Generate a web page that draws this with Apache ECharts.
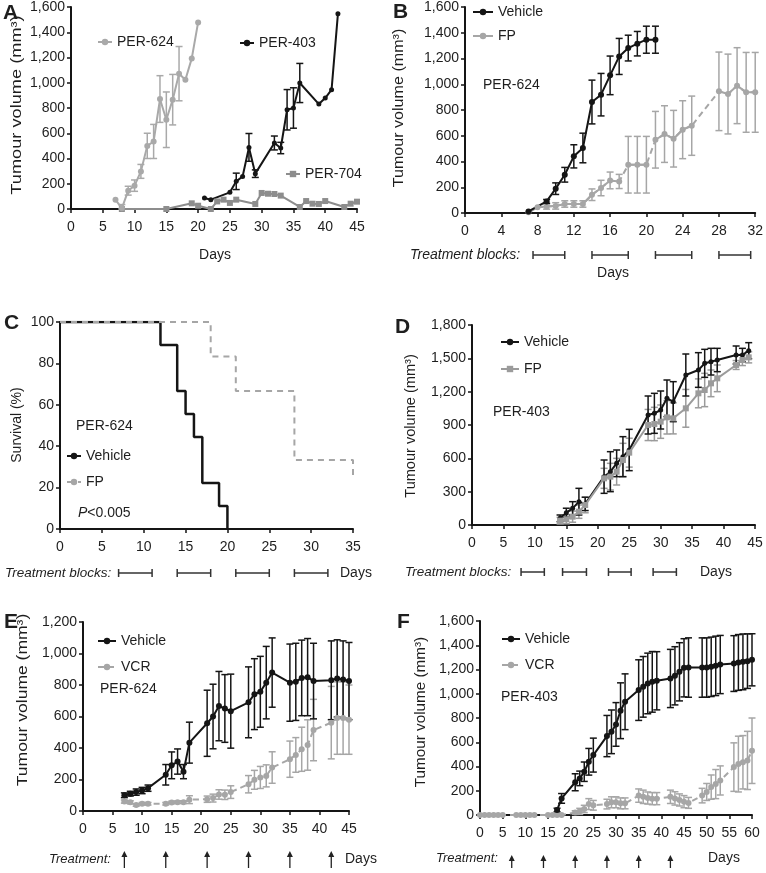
<!DOCTYPE html>
<html><head><meta charset="utf-8">
<script src="https://cdn.jsdelivr.net/npm/echarts@6/dist/echarts.min.js"></script>
<style>html,body{margin:0;padding:0;background:#fff}#c{width:766px;height:873px}</style>
</head><body><div id="c"></div><script>
// ---------- Panel A ----------
const aDays624 = [7,8,9,10,11,12,13,14,15,16,17,18,19,20];
const aVal624  = [74,5,145,185,298,500,535,871,707,866,1072,1024,1193,1478];
const aErr624  = [0,30,35,45,55,100,135,185,220,200,215,0,0,0];
const aDays403 = [21,22,25,26,27,28,29,32,33,34,35,36,39,40,41,42];
const aVal403  = [87,74,132,219,258,488,280,523,483,786,800,998,831,879,945,1547];
const aErr403  = [0,0,0,65,0,110,30,55,45,160,160,155,0,0,0,0];
const aDays704 = [8,15,19,20,22,23,24,25,26,29,30,31,32,33,36,37,38,39,40,43,44,45];
const aVal704  = [0,0,45,26,0,60,74,48,74,40,127,121,119,106,16,63,42,40,63,16,42,58];
// ---------- Panel B ----------
const bDaysVeh = [7,9,10,11,12,13,14,15,16,17,18,19,20,21];
const bValVeh  = [12,90,189,297,440,505,862,919,1069,1216,1281,1315,1346,1346];
const bErrVeh  = [0,15,45,57,90,115,170,165,150,140,100,95,105,105];
const bDaysFP  = [7,8,9,10,11,12,13,14,15,16,17,18,19,20,21,22,23,24,25,28,29,30,31,32];
const bValFP   = [5,44,50,55,70,70,70,142,194,253,245,375,375,375,569,613,577,647,678,945,924,989,937,937];
const bErrFP   = [0,0,20,25,25,25,25,45,60,65,55,220,220,220,220,220,220,225,230,305,310,295,310,310];
const bFPDashedAfter = [17,20,25];
const bBlocks = [[7.5,11],[14,18],[21,25],[28,31.5]];
// ---------- Panel C ----------
const cVehDays = [0,12,14,15,16,17,19,20];
const cVehSurv = [100,88.9,66.7,55.6,44.4,22.2,11.1,0];
const cFPDays  = [0,18,21,28,35];
const cFPSurv  = [100,83.3,66.7,33.3,25];
const cBlocks = [[7,11],[14,18],[21,25],[28,32]];
// ---------- Panel D ----------
const dDays    = [14,15,16,17,18,21,22,23,24,25,28,29,30,31,32,34,36,37,38,39,42,43,44];
const dValVeh  = [60,111,150,210,190,435,480,555,615,675,990,1005,1035,1140,1110,1350,1395,1455,1470,1485,1530,1530,1569];
const dErrVeh  = [30,40,60,120,60,150,180,120,180,186,171,180,171,165,180,189,156,126,120,105,81,60,72];
const dValFP   = [39,51,75,120,180,420,435,480,585,651,900,909,930,969,960,1050,1185,1215,1275,1320,1440,1485,1509];
const dErrFP   = [30,40,50,60,70,90,120,120,150,130,140,150,150,150,140,170,130,150,120,120,40,50,50];
const dBlocks = [[7.8,11.5],[14.4,18.2],[21.7,25.3],[28.8,32.5]];
// ---------- Panel E ----------
const eDays    = [7,8,9,10,11,14,15,16,17,18,21,22,23,24,25,28,29,30,31,32,35,36,37,38,39,42,43,44,45];
const eValVeh  = [100,110,120,130,145,230,290,314,250,434,557,600,666,651,634,690,742,757,815,879,815,820,845,850,825,830,842,835,825];
const eErrVeh  = [15,15,20,20,20,65,85,80,45,130,210,205,220,215,235,225,225,225,230,220,245,245,240,245,240,250,245,245,245];
const eValVCR  = [60,55,38,46,46,46,54,56,56,72,75,82,105,103,120,170,198,213,223,276,329,356,392,419,514,561,590,590,580];
const eErrVCR  = [10,10,8,8,8,8,8,8,8,25,20,25,30,30,40,55,60,70,70,100,115,110,140,160,195,230,230,230,220];
const eTreat   = [7,14,21,28,35,42];
// ---------- Panel F ----------
const fDaysVeh = [17,18,21,22,23,24,25,28,29,30,31,32,35,36,37,38,39,42,43,44,45,46,49,50,51,52,53,56,57,58,59,60];
const fValVeh  = [41,137,270,302,357,439,494,651,686,747,860,934,1030,1057,1085,1098,1107,1126,1148,1181,1214,1216,1216,1216,1222,1230,1241,1249,1258,1263,1269,1280];
const fErrVeh  = [15,40,70,60,80,110,140,170,180,180,230,230,250,250,250,250,240,240,240,240,240,245,245,245,245,245,240,230,230,230,225,215];
const fDaysVCR = [0,1,2,3,4,5,8,9,10,11,12,15,16,17,18,21,22,23,24,25,28,29,30,31,32,35,36,37,38,39,42,43,44,45,46,49,50,51,52,53,56,57,58,59,60];
const fValVCR  = [0,0,0,0,0,0,0,0,0,0,0,0,0,0,0,20,30,50,90,80,90,105,105,96,96,160,150,140,135,135,150,137,124,110,100,160,190,230,255,285,395,420,435,450,530];
const fErrVCR  = [0,0,0,0,0,0,0,0,0,0,0,0,0,0,0,15,25,30,45,40,40,45,45,45,45,55,55,50,50,50,55,55,50,50,45,60,70,100,120,120,200,230,220,240,270];
const fTreat   = [7,14,21,28,35,42];

// ---------- styling ----------
const FF = 'Liberation Sans, Arial, sans-serif';
const BLACK = '#151515', TXT = '#1e1e1e';
const GREY_A = '#a9a9a9', GREY_704 = '#8d8d8d', GREY = '#a6a6a6', GREY_D = '#9b9b9b';
const grids = [
  {left:71, top:7, width:286, height:202},
  {left:465, top:7, width:294, height:206},
  {left:60, top:322, width:293, height:207},
  {left:472, top:325, width:283, height:200},
  {left:83, top:622, width:266, height:189},
  {left:480, top:621, width:272, height:194}
];
const xSpec = [[45,5],[32,4],[35,5],[45,5],[45,5],[60,5]];
const ySpec = [[1600,200],[1600,200],[100,20],[1800,300],[1200,200],[1600,200]];
const fmt = v => String(v).replace(/\B(?=(\d{3})+(?!\d))/g, ',');

const xAxis = xSpec.map((s,i)=>({type:'value', gridIndex:i, min:0, max:s[0], interval:s[1],
  axisLine:{show:true, onZero:false, lineStyle:{color:BLACK, width:2}},
  axisTick:{show:true, length:4, lineStyle:{color:BLACK, width:1.5}},
  axisLabel:{fontSize:14, color:TXT, fontFamily:FF, margin:11, interval:0, hideOverlap:false, showMinLabel:true, showMaxLabel:true},
  splitLine:{show:false}}));
const yAxis = ySpec.map((s,i)=>({type:'value', gridIndex:i, min:0, max:s[0], interval:s[1],
  axisLine:{show:true, onZero:false, lineStyle:{color:BLACK, width:2}},
  axisTick:{show:true, length:4, lineStyle:{color:BLACK, width:1.5}},
  axisLabel:{fontSize:14, color:TXT, fontFamily:FF, margin:6, formatter:fmt, showMinLabel:true, showMaxLabel:true},
  splitLine:{show:false}}));

function errRender(params, api){
  const x = api.value(0), lo = api.value(1), hi = api.value(2);
  const p1 = api.coord([x, lo]), p2 = api.coord([x, hi]);
  const w = 3.5;
  const st = {stroke: api.visual('color'), lineWidth: 1.5};
  return {type:'group', children:[
    {type:'line', shape:{x1:p1[0],y1:p1[1],x2:p2[0],y2:p2[1]}, style:st},
    {type:'line', shape:{x1:p1[0]-w,y1:p1[1],x2:p1[0]+w,y2:p1[1]}, style:st},
    {type:'line', shape:{x1:p2[0]-w,y1:p2[1],x2:p2[0]+w,y2:p2[1]}, style:st}
  ]};
}
function errSeries(gi, days, vals, errs, color){
  const data = [];
  days.forEach((d,i)=>{ if (errs[i] > 0) data.push([d, Math.max(0, vals[i]-errs[i]), vals[i]+errs[i]]); });
  return {type:'custom', xAxisIndex:gi, yAxisIndex:gi, data, renderItem:errRender,
    itemStyle:{color}, encode:{x:0, y:[1,2]}, z:2, silent:true, clip:false};
}
function lineSeries(name, gi, days, vals, color, symbol, extra){
  return Object.assign({type:'line', name, xAxisIndex:gi, yAxisIndex:gi,
    data: days.map((d,i)=>[d, vals[i]]), symbol, symbolSize:6, showSymbol:true,
    lineStyle:{color, width:2}, itemStyle:{color}, z:3, silent:true, animation:false}, extra||{});
}
function blockSeries(gi, blocks, off){
  return {type:'custom', xAxisIndex:gi, yAxisIndex:gi, data: blocks.map(b=>[b[0], b[1]]), clip:false, silent:true,
    encode:{x:[0,1]},
    renderItem:function(params, api){
      const a = api.coord([api.value(0), 0]), b = api.coord([api.value(1), 0]);
      const y = a[1] + off, h = 4;
      const st = {stroke:'#333', lineWidth:1.5};
      return {type:'group', children:[
        {type:'line', shape:{x1:a[0],y1:y,x2:b[0],y2:y}, style:st},
        {type:'line', shape:{x1:a[0],y1:y-h,x2:a[0],y2:y+h}, style:st},
        {type:'line', shape:{x1:b[0],y1:y-h,x2:b[0],y2:y+h}, style:st}]};
    }};
}
function arrowSeries(gi, days, top, bot){
  return {type:'custom', xAxisIndex:gi, yAxisIndex:gi, data: days.map(d=>[d, 0]), clip:false, silent:true,
    renderItem:function(params, api){
      const a = api.coord([api.value(0), 0]);
      const x = a[0], y0 = a[1];
      return {type:'group', children:[
        {type:'line', shape:{x1:x,y1:y0+bot,x2:x,y2:y0+top+4}, style:{stroke:'#222', lineWidth:1.3}},
        {type:'polygon', shape:{points:[[x,y0+top],[x-3,y0+top+6],[x+3,y0+top+6]]}, style:{fill:'#222'}}]};
    }};
}

// Panel B FP: solid within blocks, dashed in gaps
const bFPSolid = [];
bDaysFP.forEach((d,i)=>{ bFPSolid.push([d, bValFP[i]]); if (bFPDashedAfter.includes(d)) bFPSolid.push([d+0.5, '-']); });

const series = [
  // A
  errSeries(0, aDays624, aVal624, aErr624, GREY_A),
  errSeries(0, aDays403, aVal403, aErr403, BLACK),
  lineSeries('A|PER-704', 0, aDays704, aVal704, GREY_704, 'rect'),
  lineSeries('A|PER-624', 0, aDays624, aVal624, GREY_A, 'circle'),
  lineSeries('A|PER-403', 0, aDays403, aVal403, BLACK, 'circle', {symbolSize:5}),
  // B
  errSeries(1, bDaysFP, bValFP, bErrFP, GREY),
  errSeries(1, bDaysVeh, bValVeh, bErrVeh, BLACK),
  lineSeries('B|FPgap', 1, bDaysFP, bValFP, GREY, 'none', {lineStyle:{color:GREY, width:2, type:[6,4]}}),
  Object.assign(lineSeries('B|FP', 1, bDaysFP, bValFP, GREY, 'circle'), {data:bFPSolid, connectNulls:false}),
  lineSeries('B|Vehicle', 1, bDaysVeh, bValVeh, BLACK, 'circle'),
  // C
  lineSeries('C|Vehicle', 2, cVehDays, cVehSurv, BLACK, 'none', {step:'end', lineStyle:{color:BLACK, width:2.5}}),
  lineSeries('C|FP', 2, cFPDays, cFPSurv, GREY, 'none', {step:'end', z:4, lineStyle:{color:GREY, width:2, type:[6,5]}}),
  blockSeries(2, cBlocks, 44),
  blockSeries(1, bBlocks, 42),
  // D
  errSeries(3, dDays, dValFP, dErrFP, GREY_D),
  errSeries(3, dDays, dValVeh, dErrVeh, BLACK),
  lineSeries('D|Vehicle', 3, dDays, dValVeh, BLACK, 'circle', {symbolSize:5}),
  lineSeries('D|FP', 3, dDays, dValFP, GREY_D, 'rect', {z:4}),
  blockSeries(3, dBlocks, 47),
  // E
  errSeries(4, eDays, eValVCR, eErrVCR, GREY),
  errSeries(4, eDays, eValVeh, eErrVeh, BLACK),
  lineSeries('E|VCR', 4, eDays, eValVCR, GREY, 'circle', {lineStyle:{color:GREY, width:2, type:[6,4]}}),
  lineSeries('E|Vehicle', 4, eDays, eValVeh, BLACK, 'circle'),
  arrowSeries(4, eTreat, 40, 57),
  // F
  errSeries(5, fDaysVCR, fValVCR, fErrVCR, GREY),
  errSeries(5, fDaysVeh, fValVeh, fErrVeh, BLACK),
  lineSeries('F|VCR', 5, fDaysVCR, fValVCR, GREY, 'circle', {lineStyle:{color:GREY, width:2, type:[6,4]}}),
  lineSeries('F|Vehicle', 5, fDaysVeh, fValVeh, BLACK, 'circle'),
  arrowSeries(5, fTreat, 40, 53)
];

function leg(name, left, top, w){
  return {data:[name], left, top, orient:'horizontal', padding:0, itemWidth:w||18, itemHeight:8, selectedMode:false,
    formatter: n => n.split('|')[1], textStyle:{fontSize:14, color:TXT, fontFamily:FF}};
}
const legend = [
  leg('A|PER-624', 97, 35, 14), leg('A|PER-403', 239, 36, 14), leg('A|PER-704', 285, 167, 14),
  leg('B|Vehicle', 472, 5, 20), leg('B|FP', 472, 29, 20),
  leg('C|Vehicle', 66, 449, 14), leg('C|FP', 66, 475, 14),
  leg('D|Vehicle', 500, 335), leg('D|FP', 500, 362),
  leg('E|Vehicle', 97, 634), leg('E|VCR', 97, 660),
  leg('F|Vehicle', 501, 632), leg('F|VCR', 501, 658)
];

function T(text, x, y, o){
  o = o || {};
  return {type:'text', x, y, rotation:o.rot||0, scaleX:o.sx||1, silent:true,
    style:{text, fontSize:o.fs||14, fontFamily:FF, fontWeight:o.fw||'normal', fontStyle:o.it?'italic':'normal',
      fill:TXT, align:o.align||'left', verticalAlign:'middle', rich:o.rich}};
}
const YT = 'Tumour volume (mm³)';
const graphic = [
  T('A', 3, 13, {fs:21, fw:'bold'}), T('B', 393, 12, {fs:21, fw:'bold'}),
  T('C', 4, 323, {fs:21, fw:'bold'}), T('D', 395, 327, {fs:21, fw:'bold'}),
  T('E', 4, 622, {fs:21, fw:'bold'}), T('F', 397, 622, {fs:21, fw:'bold'}),
  T(YT, 17, 105, {align:'center', rot:Math.PI/2, sx:1.3}),
  T(YT, 399, 108, {align:'center', rot:Math.PI/2, sx:1.15}),
  T('Survival (%)', 17, 425, {align:'center', rot:Math.PI/2}),
  T(YT, 411, 426, {align:'center', rot:Math.PI/2, sx:1.04}),
  T(YT, 23, 700, {align:'center', rot:Math.PI/2, sx:1.25}),
  T(YT, 421, 712, {align:'center', rot:Math.PI/2, sx:1.09}),
  T('Days', 215, 255, {align:'center'}),
  T('Days', 613, 273, {align:'center'}),
  T('Days', 340, 573), T('Days', 700, 572), T('Days', 345, 859), T('Days', 708, 858),
  T('Treatment blocks:', 410, 255, {it:true}),
  T('Treatment blocks:', 5, 573, {it:true, fs:13.5}),
  T('Treatment blocks:', 405, 572, {it:true, fs:13.5}),
  T('Treatment:', 49, 859, {it:true, fs:13}),
  T('Treatment:', 436, 858, {it:true, fs:13}),
  T('PER-624', 483, 85), T('PER-624', 76, 426), T('PER-403', 493, 412),
  T('PER-624', 100, 689), T('PER-403', 501, 697),
  T('{i|P}<0.005', 78, 513, {rich:{i:{fontStyle:'italic', fontSize:14, fontFamily:FF, fill:TXT}}})
];

const chart = echarts.init(document.getElementById('c'), null, {renderer:'canvas'});
chart.setOption({animation:false, backgroundColor:'#fff', grid:grids, xAxis, yAxis, series, legend, graphic});
</script></body></html>
